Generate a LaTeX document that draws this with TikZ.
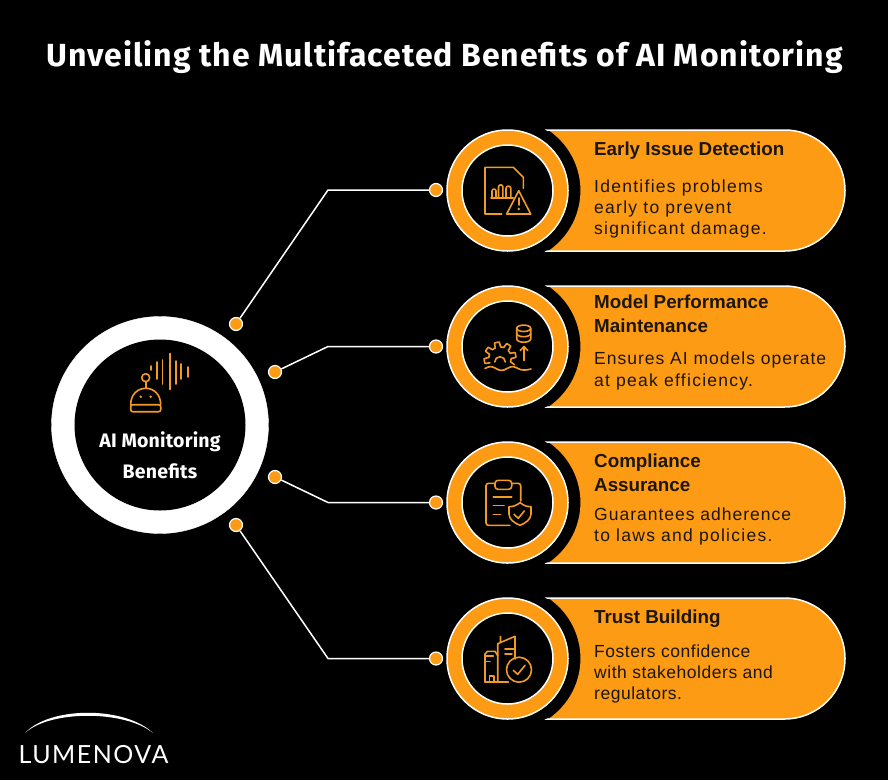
\documentclass[tikz,border=0pt]{standalone}
\usepackage{fontspec}
\setmainfont{Liberation Sans}
\newfontfamily\titlefont[LetterSpace=3.1]{Fira Sans}
\newfontfamily\hubfont[LetterSpace=1]{Fira Sans}
\newfontfamily\bodyfont[LetterSpace=5.7]{Liberation Sans}
\newfontfamily\bodywide[LetterSpace=7.3]{Liberation Sans}
\newfontfamily\bodynarrow[LetterSpace=3]{Liberation Sans}
\newfontfamily\headfont{Liberation Sans}
\newfontfamily\logofont[LetterSpace=6]{Lato}
\definecolor{amber}{HTML}{FD9B14}
\definecolor{iconamber}{HTML}{F29A26}
\definecolor{inkdark}{HTML}{1C1608}
\tikzset{
  x=1pt,y=1pt,
  icon/.style={draw=iconamber,line width=1.6pt,line cap=round,line join=round},
  wire/.style={draw=white,line width=1.5pt},
  dotmark/.style={circle,fill=amber,draw=white,line width=1.2pt,minimum size=13pt,inner sep=0pt},
  headtext/.style={anchor=base west,inner sep=0pt,text=inkdark,font=\headfont\bfseries\fontsize{18.8}{21}\selectfont},
  bodytext/.style={anchor=base west,inner sep=0pt,text=inkdark,font=\bodyfont\fontsize{17.5}{21}\selectfont},
  bodywidetext/.style={bodytext,font=\bodywide\fontsize{17.5}{21}\selectfont},
  bodynarrowtext/.style={bodytext,font=\bodynarrow\fontsize{17.5}{21}\selectfont},
  hubtext/.style={inner sep=0pt,text=white,font=\hubfont\bfseries\fontsize{19.5}{23}\selectfont},
}
\newcommand{\benefitrow}[1]{%
  \begin{scope}[shift={(0,-#1)}]
    \fill[amber] (548.2,60.5) -- (784.5,60.5) arc[start angle=90,end angle=-90,radius=60.5]
      -- (548.2,-60.5) arc[start angle=-56.1,end angle=56.1,radius=72.9] -- cycle;
    \draw[white,line width=1.5pt] (543,60.5) -- (784.5,60.5) arc[start angle=90,end angle=-90,radius=60.5] -- (543,-60.5);
    \fill[black] (507.5,0) circle[radius=71.5];
    \draw[white,line width=1.5pt,fill=amber] (507.5,0) circle[radius=60.5];
    \draw[white,line width=1.5pt,fill=black] (507.5,0) circle[radius=45.5];
  \end{scope}}
\begin{document}
\begin{tikzpicture}
\useasboundingbox (0,0) rectangle (888,-780);
\fill[black] (0,0) rectangle (888,-780);

\node[inner sep=0pt,text=white,font=\titlefont\bfseries\fontsize{32}{38}\selectfont] (title) at (444.5,-57) {Unveiling the Multifaceted Benefits of AI Monitoring};

% hub
\draw[white,fill=white] (160,-425) circle[radius=108.5];
\fill[black] (160,-425) circle[radius=85.5];
\node[hubtext] (hubA) at (160,-442) {AI Monitoring};
\node[hubtext] (hubB) at (160,-471) {Benefits};

% hub icon
\draw[icon] (145.7,-377.7) circle[radius=4];
\draw[icon] (145.7,-381.7) -- (145.7,-388.3);
\draw[icon] (130.7,-404.7) .. controls (130.7,-394) and (138,-388.3) .. (145.7,-388.3) .. controls (153.4,-388.3) and (160.7,-394) .. (160.7,-404.7);
\draw[icon,rounded corners=2pt] (130.7,-404.7) rectangle (160.7,-411.7);
\fill[iconamber] (140.7,-396.7) circle[radius=1.4] (150.7,-396.7) circle[radius=1.4];
\draw[icon] (151,-366) -- (151,-370)
  (156.7,-362) -- (156.7,-379)
  (162.3,-360) -- (162.3,-384)
  (169.7,-353.5) -- (169.7,-389.5)
  (175.7,-361) -- (175.7,-384)
  (181,-364) -- (181,-379)
  (188,-367) -- (188,-377);

% rows
\benefitrow{190.5}
\benefitrow{346.5}
\benefitrow{502.5}
\benefitrow{658.5}

% connector dots
\node[dotmark] (hubdot1) at (236,-324) {};
\node[dotmark] (hubdot2) at (275,-372) {};
\node[dotmark] (hubdot3) at (275,-477) {};
\node[dotmark] (hubdot4) at (236,-525) {};
\node[dotmark] (rowdot1) at (436,-190) {};
\node[dotmark] (rowdot2) at (436,-346.5) {};
\node[dotmark] (rowdot3) at (436,-502.5) {};
\node[dotmark] (rowdot4) at (436,-658.5) {};
\coordinate (bend1) at (328,-190);
\coordinate (bend2) at (328,-346.5);
\coordinate (bend3) at (328,-502.5);
\coordinate (bend4) at (328,-658.5);
\draw[wire] (hubdot1) -- (bend1) -- (rowdot1);
\draw[wire] (hubdot2) -- (bend2) -- (rowdot2);
\draw[wire] (hubdot3) -- (bend3) -- (rowdot3);
\draw[wire] (hubdot4) -- (bend4) -- (rowdot4);

% texts
\node[headtext] (h1) at (594,-155) {Early Issue Detection};
\node[bodywidetext] (b1a) at (594,-192) {Identifies problems};
\node[bodywidetext] (b1b) at (594,-213) {early to prevent};
\node[bodywidetext] (b1c) at (594,-234) {significant damage.};
\node[headtext] (h2a) at (594,-308) {Model Performance};
\node[headtext] (h2b) at (594,-332) {Maintenance};
\node[bodytext] (b2a) at (594,-364) {Ensures AI models operate};
\node[bodywidetext] (b2b) at (594,-386) {at peak efficiency.};
\node[headtext] (h3a) at (594,-467) {Compliance};
\node[headtext] (h3b) at (594,-491) {Assurance};
\node[bodytext] (b3a) at (594,-520) {Guarantees adherence};
\node[bodywidetext] (b3b) at (594,-541) {to laws and policies.};
\node[headtext] (h4) at (594,-623) {Trust Building};
\node[bodynarrowtext] (b4a) at (594,-657) {Fosters confidence};
\node[bodynarrowtext] (b4b) at (594,-678) {with stakeholders and};
\node[bodynarrowtext] (b4c) at (594,-699) {regulators.};

% icon 1: document with warning
\draw[icon] (501.7,-214) -- (485,-214) -- (485,-167.3) -- (513.3,-167.3) -- (523.3,-177.3) -- (523.3,-188.3);
\draw[icon] (491,-198) -- (513.3,-198);
\draw[icon] (492,-198) -- (492,-191) arc[start angle=180,end angle=0,radius=2] -- (496,-198);
\draw[icon] (498.5,-198) -- (498.5,-187) arc[start angle=180,end angle=0,radius=2.2] -- (502.9,-198);
\draw[icon] (506,-198) -- (506,-188.5) arc[start angle=180,end angle=0,radius=2.4] -- (510.8,-198);
\draw[icon] (518.7,-190.7) -- (530.7,-214) -- (506.7,-214) -- cycle;
\draw[icon] (518.7,-198) -- (518.7,-205);
\fill[iconamber] (518.7,-209) circle[radius=1.3];

% icon 2: gear, waves, database
\draw[icon] plot[domain=205:-25,samples=93] ({500+(13.5+2.4*sign(sin(8*\x)))*cos(\x)},{-358+(13.5+2.4*sign(sin(8*\x)))*sin(\x)});
\draw[icon] (494.7,-362) arc[start angle=180,end angle=0,radius=5.3];
\draw[icon] (485,-368.5) .. controls (489,-366) and (492,-366) .. (496,-368.5) .. controls (500,-371) and (503,-371) .. (507,-368.5) .. controls (511,-366) and (514,-366) .. (518,-368.5) .. controls (522,-371) and (527,-370) .. (531,-369);
\draw[icon] (524,-360.5) -- (524,-347);
\draw[icon] (520.3,-350.5) -- (524,-346.5) -- (527.7,-350.5);
\draw[icon] (523.7,-328.3) ellipse[x radius=7,y radius=3.2];
\draw[icon] (516.7,-328.3) -- (516.7,-339) arc[start angle=180,end angle=360,x radius=7,y radius=3.2] -- (530.7,-328.3);
\draw[icon] (516.7,-333.5) arc[start angle=180,end angle=360,x radius=7,y radius=3.2];

% icon 3: clipboard and shield
\draw[icon,rounded corners=2.5pt] (510,-525.3) -- (486,-525.3) -- (486,-483.3) -- (520.7,-483.3) -- (520.7,-501);
\draw[icon,fill=black,rounded corners=3pt] (495,-480.3) rectangle (511.7,-489.3);
\draw[icon] (493.3,-496.7) -- (511.7,-496.7) (493.3,-505.3) -- (504,-505.3) (493.3,-514.3) -- (500.7,-514.3);
\draw[icon] (520,-502.7) .. controls (516,-505.7) and (513,-506.7) .. (509,-506.7) -- (509,-514) .. controls (509,-519) and (514,-523) .. (520,-525.3) .. controls (526,-523) and (531,-519) .. (531,-514) -- (531,-506.7) .. controls (527,-506.7) and (524,-505.7) .. (520,-502.7) -- cycle;
\draw[icon] (514,-514.3) -- (518.3,-518.3) -- (524.3,-511);

% icon 4: buildings with check
\draw[icon] (485,-682) -- (485,-654) -- (487.5,-651.3) -- (495,-651.3) -- (497.7,-655.5) -- (497.7,-682);
\draw[icon] (485,-682) -- (508.3,-682);
\draw[icon] (489.3,-682) -- (489.3,-676) -- (494,-676) -- (494,-682);
\draw[icon] (486,-656) -- (493.3,-656) (486,-661.3) -- (490,-661.3);
\draw[icon] (497.7,-655.5) -- (497.7,-643.7) -- (500.5,-642.5) -- (500.5,-636.5) (500.5,-642.5) -- (515,-636.3) -- (515,-659);
\draw[icon] (505,-648.7) -- (515,-648.7) (505,-653.7) -- (512,-653.7);
\draw[icon] (519,-669.7) circle[radius=12.5];
\draw[icon] (513.3,-670.3) -- (517.7,-674.3) -- (525,-665.3);

% logo
\fill[white] (25,-733) .. controls (50,-706) and (125,-706) .. (153,-733) .. controls (125,-710) and (50,-710) .. (25,-733) -- cycle;
\node[inner sep=0pt,text=white,font=\logofont\fontsize{25}{30}\selectfont] (logo) at (93.5,-755) {LUMENOVA};
\end{tikzpicture}
\end{document}
